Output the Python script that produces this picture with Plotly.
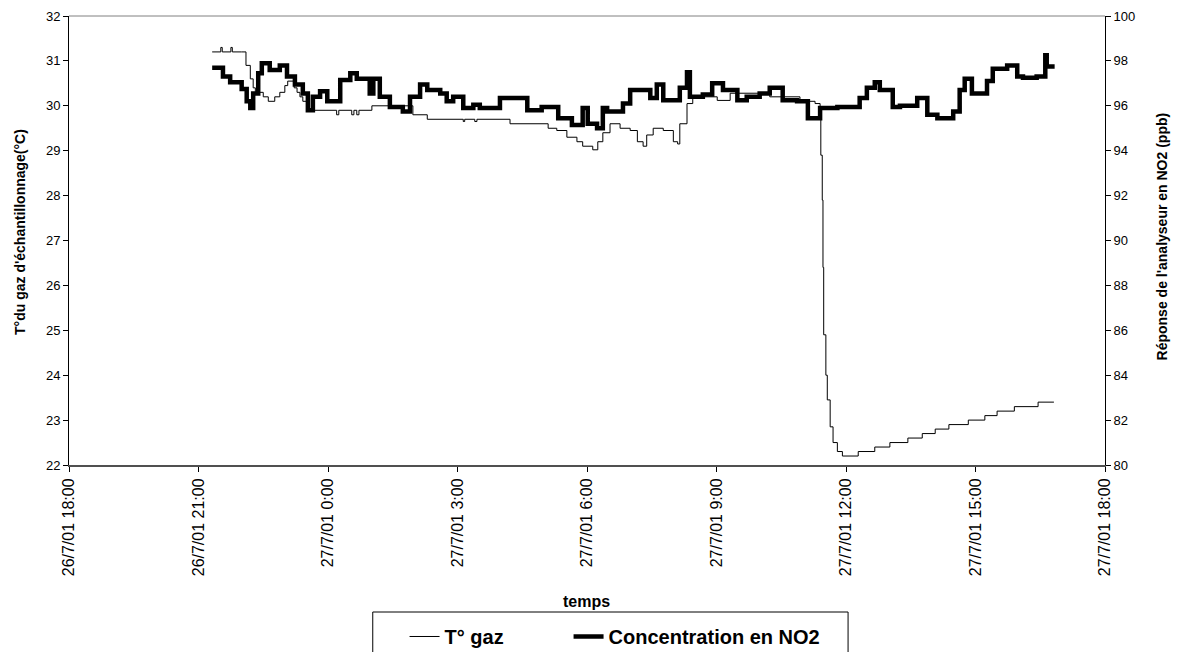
import plotly.graph_objects as go

# ---------------- data ----------------
t_time = [
    "2001-07-26 21:19", "2001-07-26 21:31", "2001-07-26 21:33", "2001-07-26 21:45", "2001-07-26 21:47",
    "2001-07-26 22:00", "2001-07-26 22:06", "2001-07-26 22:12", "2001-07-26 22:16", "2001-07-26 22:19",
    "2001-07-26 22:30", "2001-07-26 22:37", "2001-07-26 22:46", "2001-07-26 22:53", "2001-07-26 23:00",
    "2001-07-26 23:04", "2001-07-26 23:13", "2001-07-26 23:17", "2001-07-26 23:21", "2001-07-26 23:25",
    "2001-07-26 23:31", "2001-07-27 00:12", "2001-07-27 00:15", "2001-07-27 00:33", "2001-07-27 00:36",
    "2001-07-27 00:40", "2001-07-27 00:43", "2001-07-27 01:01", "2001-07-27 01:58", "2001-07-27 02:18",
    "2001-07-27 03:08", "2001-07-27 03:10", "2001-07-27 03:24", "2001-07-27 03:27", "2001-07-27 04:13",
    "2001-07-27 05:06", "2001-07-27 05:18", "2001-07-27 05:32", "2001-07-27 05:46", "2001-07-27 05:54",
    "2001-07-27 06:08", "2001-07-27 06:15", "2001-07-27 06:22", "2001-07-27 06:32", "2001-07-27 06:46",
    "2001-07-27 07:00", "2001-07-27 07:10", "2001-07-27 07:18", "2001-07-27 07:23", "2001-07-27 07:32",
    "2001-07-27 07:46", "2001-07-27 08:00", "2001-07-27 08:06", "2001-07-27 08:09", "2001-07-27 08:19",
    "2001-07-27 08:27", "2001-07-27 09:01", "2001-07-27 09:19", "2001-07-27 10:14", "2001-07-27 10:56",
    "2001-07-27 11:17", "2001-07-27 11:24", "2001-07-27 11:25", "2001-07-27 11:27", "2001-07-27 11:28",
    "2001-07-27 11:29", "2001-07-27 11:32", "2001-07-27 11:34", "2001-07-27 11:38", "2001-07-27 11:42",
    "2001-07-27 11:48", "2001-07-27 11:55", "2001-07-27 12:17", "2001-07-27 12:40", "2001-07-27 13:01",
    "2001-07-27 13:26", "2001-07-27 13:46", "2001-07-27 14:04", "2001-07-27 14:23", "2001-07-27 14:50",
    "2001-07-27 15:13", "2001-07-27 15:30", "2001-07-27 15:54", "2001-07-27 16:27", "2001-07-27 16:49",
]
t_gaz = [
    31.2, 31.3, 31.2, 31.3, 31.2,
    31.2, 30.9, 30.6, 30.4, 30.3,
    30.2, 30.1, 30.2, 30.3, 30.45,
    30.55, 30.4, 30.3, 30.2, 30.1,
    29.9, 29.8, 29.9, 29.8, 29.9,
    29.8, 29.9, 30.0, 29.8, 29.7,
    29.65, 29.7, 29.65, 29.7, 29.6,
    29.5, 29.45, 29.3, 29.2, 29.1,
    29.02, 29.2, 29.4, 29.6, 29.5,
    29.45, 29.2, 29.1, 29.35, 29.5,
    29.45, 29.2, 29.15, 29.6, 30.05,
    30.2, 30.12, 30.28, 30.2, 30.1,
    30.05, 29.9, 28.9, 27.9, 26.4,
    24.9, 24.0, 23.45, 22.85, 22.5,
    22.3, 22.2, 22.3, 22.4, 22.5,
    22.6, 22.7, 22.8, 22.9, 23.0,
    23.1, 23.2, 23.3, 23.4, 23.4,
]

no2_time = [
    "2001-07-26 21:19", "2001-07-26 21:34", "2001-07-26 21:44", "2001-07-26 22:00", "2001-07-26 22:07",
    "2001-07-26 22:12", "2001-07-26 22:16", "2001-07-26 22:23", "2001-07-26 22:28", "2001-07-26 22:39",
    "2001-07-26 22:53", "2001-07-26 23:03", "2001-07-26 23:14", "2001-07-26 23:25", "2001-07-26 23:32",
    "2001-07-26 23:39", "2001-07-26 23:49", "2001-07-26 23:59", "2001-07-27 00:17", "2001-07-27 00:31",
    "2001-07-27 00:40", "2001-07-27 00:58", "2001-07-27 01:03", "2001-07-27 01:12", "2001-07-27 01:26",
    "2001-07-27 01:44", "2001-07-27 01:54", "2001-07-27 02:08", "2001-07-27 02:18", "2001-07-27 02:36",
    "2001-07-27 02:45", "2001-07-27 02:54", "2001-07-27 03:08", "2001-07-27 03:22", "2001-07-27 03:31",
    "2001-07-27 03:59", "2001-07-27 04:37", "2001-07-27 04:57", "2001-07-27 05:20", "2001-07-27 05:39",
    "2001-07-27 05:54", "2001-07-27 06:01", "2001-07-27 06:14", "2001-07-27 06:22", "2001-07-27 06:28",
    "2001-07-27 06:50", "2001-07-27 07:00", "2001-07-27 07:28", "2001-07-27 07:37", "2001-07-27 07:46",
    "2001-07-27 08:09", "2001-07-27 08:19", "2001-07-27 08:23", "2001-07-27 08:41", "2001-07-27 08:54",
    "2001-07-27 09:09", "2001-07-27 09:29", "2001-07-27 09:42", "2001-07-27 10:00", "2001-07-27 10:14",
    "2001-07-27 10:32", "2001-07-27 10:52", "2001-07-27 11:07", "2001-07-27 11:24", "2001-07-27 11:48",
    "2001-07-27 12:19", "2001-07-27 12:29", "2001-07-27 12:40", "2001-07-27 12:47", "2001-07-27 13:05",
    "2001-07-27 13:15", "2001-07-27 13:39", "2001-07-27 13:53", "2001-07-27 14:07", "2001-07-27 14:29",
    "2001-07-27 14:38", "2001-07-27 14:45", "2001-07-27 14:55", "2001-07-27 15:16", "2001-07-27 15:24",
    "2001-07-27 15:44", "2001-07-27 15:58", "2001-07-27 16:06", "2001-07-27 16:25", "2001-07-27 16:37",
    "2001-07-27 16:39", "2001-07-27 16:50",
]
no2_ppb = [
    97.7, 97.3, 97.05, 96.75, 96.2,
    95.9, 96.55, 97.45, 97.9, 97.6,
    97.8, 97.3, 96.95, 96.55, 95.8,
    96.4, 96.65, 96.2, 97.15, 97.45,
    97.2, 96.55, 97.2, 96.4, 95.95,
    95.75, 96.4, 96.95, 96.7, 96.55,
    96.2, 96.4, 95.9, 96.05, 95.9,
    96.35, 95.8, 95.95, 95.45, 95.15,
    95.9, 95.2, 95.0, 95.9, 95.75,
    96.1, 96.7, 96.35, 96.95, 96.25,
    96.8, 97.5, 96.4, 96.5, 97.0,
    96.7, 96.25, 96.4, 96.55, 96.8,
    96.25, 96.2, 95.45, 95.9, 95.95,
    96.35, 96.8, 97.05, 96.7, 95.95,
    96.0, 96.35, 95.6, 95.45, 95.75,
    96.7, 97.2, 96.55, 97.1, 97.65,
    97.8, 97.3, 97.25, 97.3, 98.25,
    97.75, 97.75,
]

x_tick_vals = [
    "2001-07-26 18:00", "2001-07-26 21:00", "2001-07-27 00:00", "2001-07-27 03:00",
    "2001-07-27 06:00", "2001-07-27 09:00", "2001-07-27 12:00", "2001-07-27 15:00",
    "2001-07-27 18:00",
]
x_tick_text = [
    "26/7/01 18:00", "26/7/01 21:00", "27/7/01 0:00", "27/7/01 3:00",
    "27/7/01 6:00", "27/7/01 9:00", "27/7/01 12:00", "27/7/01 15:00",
    "27/7/01 18:00",
]

FONT = "Liberation Sans, Arial, sans-serif"

fig = go.Figure()
fig.add_trace(go.Scatter(
    x=t_time, y=t_gaz, name="T° gaz", mode="lines",
    line=dict(color="black", width=1, shape="hv"), yaxis="y", legend="legend",
))
fig.add_trace(go.Scatter(
    x=no2_time, y=no2_ppb, name="Concentration en NO2", mode="lines",
    line=dict(color="black", width=4.5, shape="hv"), yaxis="y2", legend="legend2",
))

legend_font = dict(size=20, family=FONT, weight="bold", color="black")

fig.update_layout(
    width=1180, height=652,
    margin=dict(l=69, r=75, t=16, b=187, autoexpand=False),
    paper_bgcolor="white", plot_bgcolor="white",
    font=dict(family=FONT, color="black", size=13),
    xaxis=dict(
        type="date", range=["2001-07-26 18:00", "2001-07-27 18:00"],
        tickmode="array", tickvals=x_tick_vals, ticktext=x_tick_text,
        tickangle=-90, ticks="outside", ticklen=5, tickcolor="black",
        showline=True, linecolor="#505050", linewidth=2,
        showgrid=False, zeroline=False, automargin=False,
        tickfont=dict(size=16),
    ),
    yaxis=dict(
        range=[22, 32], dtick=1, tick0=22, ticks="outside", ticklen=5,
        tickcolor="black", showline=True, linecolor="black", linewidth=1,
        showgrid=False, zeroline=False, automargin=False, tickfont=dict(size=13),
    ),
    yaxis2=dict(
        range=[80, 100], dtick=2, tick0=80, ticks="outside", ticklen=5,
        tickcolor="black", showline=True, linecolor="black", linewidth=1,
        showgrid=False, zeroline=False, overlaying="y", side="right",
        automargin=False, tickfont=dict(size=13),
    ),
    showlegend=True,
    legend=dict(
        orientation="h", x=0.3239, xanchor="left", y=-0.3385, yanchor="top",
        font=legend_font, bgcolor="rgba(0,0,0,0)", borderwidth=0,
    ),
    legend2=dict(
        orientation="h", x=0.4822, xanchor="left", y=-0.3385, yanchor="top",
        font=legend_font, bgcolor="rgba(0,0,0,0)", borderwidth=0,
    ),
    shapes=[
        dict(type="line", xref="x domain", yref="y domain", x0=0, x1=1, y0=1, y1=1,
             line=dict(color="#808080", width=1)),
        dict(type="rect", xref="paper", yref="paper", x0=0.2932, x1=0.752,
             y0=-0.3274, y1=-0.46, line=dict(color="black", width=1),
             fillcolor="rgba(0,0,0,0)"),
    ],
    annotations=[
        dict(text="T°du gaz d'échantillonnage(°C)", xref="paper", yref="paper",
             x=-0.0473, y=0.519, textangle=-90, showarrow=False,
             xanchor="center", yanchor="middle",
             font=dict(size=14, weight="bold")),
        dict(text="Réponse de l'analyseur en NO2 (ppb)", xref="paper", yref="paper",
             x=1.055, y=0.509, textangle=-90, showarrow=False,
             xanchor="center", yanchor="middle",
             font=dict(size=14, weight="bold")),
        dict(text="temps", xref="paper", yref="paper",
             x=0.4995, y=-0.3029, showarrow=False,
             xanchor="center", yanchor="middle",
             font=dict(size=16, weight="bold")),
    ],
)

fig.write_html("out.html")
